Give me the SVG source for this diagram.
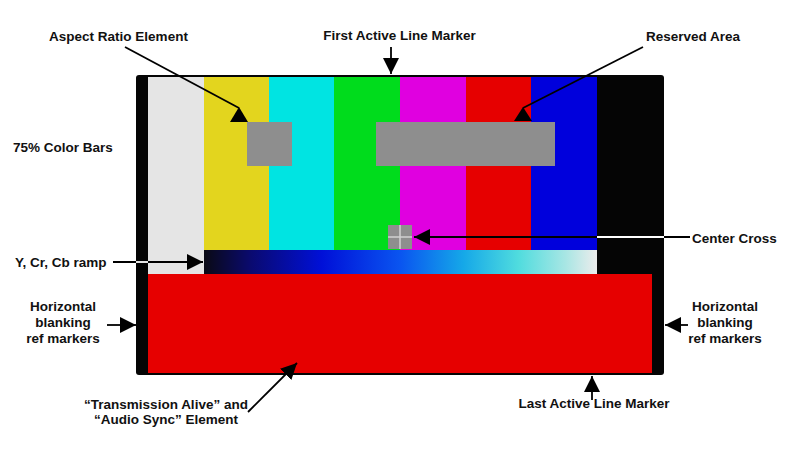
<svg xmlns="http://www.w3.org/2000/svg" width="800" height="450" viewBox="0 0 800 450">
<style>
text{font-family:"Liberation Sans",Arial,Helvetica,sans-serif;font-weight:bold;font-size:13.5px;fill:#111}
.c{text-anchor:middle}
.ln{stroke:#000;stroke-width:1.8;fill:none}
.wl{stroke:#fff;stroke-width:1.8;fill:none}
.ah{fill:#000}
</style>
<defs>
<linearGradient id="ramp" x1="0" y1="0" x2="1" y2="0">
<stop offset="0" stop-color="#0a0a14"/>
<stop offset="0.12" stop-color="#0a0a70"/>
<stop offset="0.3" stop-color="#0010d8"/>
<stop offset="0.5" stop-color="#0a55f0"/>
<stop offset="0.66" stop-color="#15a8e8"/>
<stop offset="0.8" stop-color="#50dcde"/>
<stop offset="0.92" stop-color="#a8e6e4"/>
<stop offset="1" stop-color="#ececec"/>
</linearGradient>
<marker id="arr" markerUnits="userSpaceOnUse" markerWidth="16" markerHeight="16" refX="16" refY="8" orient="auto" viewBox="0 0 16 16">
<path d="M0,0 L16,8 L0,16 z" fill="#000"/>
</marker>
</defs>
<rect width="800" height="450" fill="#fff"/>
<g id="test-pattern">
<rect x="136" y="75" width="528" height="300" rx="3" fill="#050505"/>
<rect x="148" y="77" width="56" height="197" fill="#e5e5e5"/>
<rect x="204" y="77" width="65" height="173" fill="#e3d51e"/>
<rect x="269" y="77" width="65" height="173" fill="#00e4e2"/>
<rect x="334" y="77" width="66" height="173" fill="#00dc1c"/>
<rect x="400" y="77" width="66" height="173" fill="#e000e0"/>
<rect x="466" y="77" width="65" height="173" fill="#e60000"/>
<rect x="531" y="77" width="66" height="173" fill="#0000dc"/>
<rect x="597" y="77" width="55" height="197" fill="#050505"/>
<rect x="204" y="250" width="393" height="24" fill="url(#ramp)"/>
<rect x="148" y="274" width="504" height="99" fill="#e60000"/>
</g>
<g id="aspect-ratio-element"><rect x="247" y="122" width="45" height="44" fill="#8e8e8e"/></g>
<g id="reserved-area"><rect x="376" y="122" width="179" height="44" fill="#8e8e8e"/></g>
<g id="center-cross">
<rect x="388" y="225" width="24" height="24" fill="#8e8e8e"/>
<line x1="400" y1="225" x2="400" y2="249" stroke="#d0d0d0" stroke-width="1.5"/>
<line x1="388" y1="237" x2="412" y2="237" stroke="#d0d0d0" stroke-width="1.5"/>
</g>
<g id="connectors">
<line class="ln" x1="125" y1="47" x2="239" y2="108"/>
<polygon class="ah" points="239,107 230,122 248,122"/>
<line class="ln" x1="643" y1="47" x2="523" y2="108"/>
<polygon class="ah" points="523,107 514,121 532,121"/>
<line class="ln" x1="391" y1="47" x2="391" y2="74" marker-end="url(#arr)"/>
<line class="ln" x1="592" y1="400" x2="592" y2="376" marker-end="url(#arr)"/>
<line class="ln" x1="113" y1="262" x2="203" y2="262" marker-end="url(#arr)"/>
<line class="wl" x1="136" y1="262" x2="148" y2="262"/>
<line class="ln" x1="690" y1="237" x2="414" y2="237" marker-end="url(#arr)"/>
<line class="wl" x1="597" y1="237" x2="664" y2="237"/>
<line class="ln" x1="107" y1="325" x2="136" y2="325" marker-end="url(#arr)"/>
<line class="ln" x1="688" y1="325" x2="665" y2="325" marker-end="url(#arr)"/>
<line class="ln" x1="248" y1="412" x2="297" y2="363" marker-end="url(#arr)"/>
</g>
<g id="labels">
<text class="c" x="118.5" y="41">Aspect Ratio Element</text>
<text class="c" x="399.5" y="40">First Active Line Marker</text>
<text class="c" x="693" y="41">Reserved Area</text>
<text x="13" y="152">75% Color Bars</text>
<text x="15" y="267">Y, Cr, Cb ramp</text>
<text x="692" y="243">Center Cross</text>
<text class="c" x="63" y="311">Horizontal</text>
<text class="c" x="63" y="327">blanking</text>
<text class="c" x="63" y="343">ref markers</text>
<text class="c" x="725" y="311">Horizontal</text>
<text class="c" x="725" y="327">blanking</text>
<text class="c" x="725" y="343">ref markers</text>
<text class="c" x="594" y="408">Last Active Line Marker</text>
<text class="c" x="166" y="409">“Transmission Alive” and</text>
<text class="c" x="166" y="424">“Audio Sync” Element</text>
</g>
</svg>
